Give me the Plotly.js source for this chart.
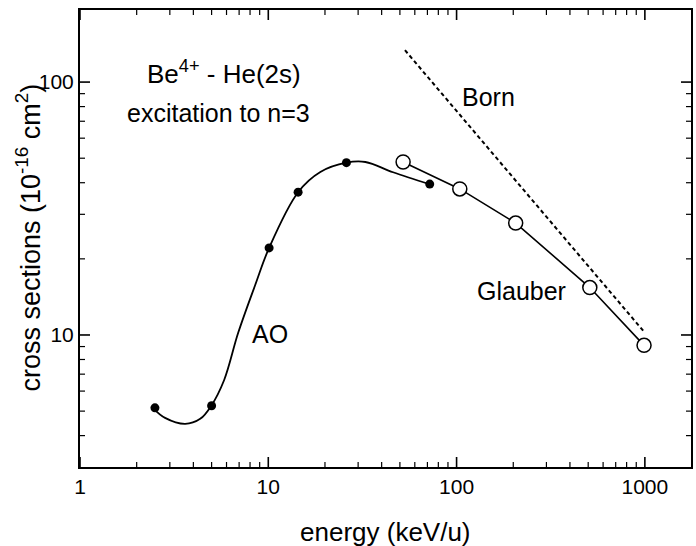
<!DOCTYPE html>
<html>
<head>
<meta charset="utf-8">
<script src="https://cdn.plot.ly/plotly-3.0.1.min.js"></script>
<style>html,body{margin:0;padding:0;background:#fff;}#chart{width:696px;height:546px;}</style>
</head>
<body>
<div id="chart"></div>
<script>
// AO calculation: smooth curve
const aoCurveX = [2.44, 2.83, 3.62, 4.35, 4.97, 5.83, 6.92, 8.53, 10.1, 14.4, 18.9, 26, 32.8, 46, 71.8];
const aoCurveY = [5.14, 4.70, 4.45, 4.66, 5.24, 6.64, 10.2, 15.8, 22.1, 36.7, 44.1, 48, 48.3, 44, 39.5];
// AO calculated points
const aoX = [2.5, 5, 10.1, 14.4, 26, 72];
const aoY = [5.15, 5.25, 22.1, 36.7, 48, 39.5];
// Glauber points
const glauberX = [52, 104, 206, 510, 990];
const glauberY = [48.3, 37.8, 27.7, 15.4, 9.1];
// Born approximation (dashed)
const bornX = [53.2, 1001];
const bornY = [133.7, 10.2];
// tick labels
const xTickVals = [1, 10, 100, 1000];
const xTickText = ['1', '10', '100', '1000'];
const yTickVals = [10, 100];
const yTickText = ['10', '100'];
const xMinor = [2,3,4,5,6,7,8,9,20,30,40,50,60,70,80,90,200,300,400,500,600,700,800,900];
const yMinor = [4,5,6,7,8,9,20,30,40,50,60,70,80,90,200];

const FONT = 'Liberation Sans, Arial, Helvetica, sans-serif';
const X_RANGE = [0, 3.245];
const Y_RANGE = [0.478, 2.285];

const traces = [
  {x: aoCurveX, y: aoCurveY, mode: 'lines', line: {color: '#000', width: 1.8, shape: 'spline', smoothing: 1}, hoverinfo: 'skip'},
  {x: aoX, y: aoY, mode: 'markers', marker: {color: '#000', size: 9, symbol: 'circle'}},
  {x: glauberX, y: glauberY, mode: 'lines+markers', line: {color: '#000', width: 1.6},
   marker: {color: '#fff', size: 14, symbol: 'circle', line: {color: '#000', width: 1.5}}},
  {x: bornX, y: bornY, mode: 'lines', line: {color: '#000', width: 2, dash: '4px,3px'}}
];

// ticks (inside, on all four sides) as pixel-sized shapes on the axis scales
const shapes = [];
function addXTicks(vals, len, w) {
  vals.forEach(v => {
    shapes.push({type: 'line', xref: 'x', yref: 'paper', ysizemode: 'pixel', yanchor: 0, x0: v, x1: v, y0: 0, y1: len, line: {color: '#000', width: w}});
    shapes.push({type: 'line', xref: 'x', yref: 'paper', ysizemode: 'pixel', yanchor: 1, x0: v, x1: v, y0: 0, y1: -len, line: {color: '#000', width: w}});
  });
}
function addYTicks(vals, len, w) {
  vals.forEach(v => {
    shapes.push({type: 'line', yref: 'y', xref: 'paper', xsizemode: 'pixel', xanchor: 0, y0: v, y1: v, x0: 0, x1: len, line: {color: '#000', width: w}});
    shapes.push({type: 'line', yref: 'y', xref: 'paper', xsizemode: 'pixel', xanchor: 1, y0: v, y1: v, x0: 0, x1: -len, line: {color: '#000', width: w}});
  });
}
addXTicks(xMinor, 5, 1.2);
addYTicks(yMinor, 5, 1.2);
addXTicks(xTickVals, 10, 1.6);
addYTicks(yTickVals, 10, 1.6);

const axisCommon = {
  type: 'log', showgrid: false, zeroline: false,
  showline: true, linecolor: '#000', linewidth: 2, mirror: true,
  ticks: '', tickmode: 'array',
  tickfont: {family: FONT, size: 21, color: '#000'}
};

const layout = {
  width: 696, height: 546,
  margin: {l: 80, r: 5, t: 10, b: 79},
  paper_bgcolor: '#fff', plot_bgcolor: '#fff',
  showlegend: false,
  font: {family: FONT, color: '#000'},
  xaxis: Object.assign({}, axisCommon, {range: X_RANGE, tickvals: xTickVals, ticktext: xTickText}),
  yaxis: Object.assign({}, axisCommon, {range: Y_RANGE, tickvals: yTickVals, ticktext: yTickText}),
  shapes: shapes,
  annotations: [
    {text: 'energy (keV/u)', xref: 'paper', yref: 'paper', x: 0.5, y: -0.1422, xanchor: 'center', yanchor: 'middle', showarrow: false, font: {size: 26}},
    {text: 'cross sections (10<sup>-16</sup> cm<sup>2</sup>)', xref: 'paper', yref: 'paper', x: -0.0851, y: 0.502, xanchor: 'center', yanchor: 'middle', textangle: -90, showarrow: false, font: {size: 27}},
    {text: 'Be<sup>4+</sup> - He(2s)', xref: 'paper', yref: 'paper', x: 0.2357, y: 0.864, xanchor: 'center', yanchor: 'middle', showarrow: false, font: {size: 26}},
    {text: 'excitation to n=3', xref: 'paper', yref: 'paper', x: 0.2259, y: 0.7746, xanchor: 'center', yanchor: 'middle', showarrow: false, font: {size: 25}},
    {text: 'Born', xref: 'paper', yref: 'paper', x: 0.668, y: 0.8096, xanchor: 'center', yanchor: 'middle', showarrow: false, font: {size: 25}},
    {text: 'Glauber', xref: 'paper', yref: 'paper', x: 0.7234, y: 0.385, xanchor: 'center', yanchor: 'middle', showarrow: false, font: {size: 25}},
    {text: 'AO', xref: 'paper', yref: 'paper', x: 0.311, y: 0.291, xanchor: 'center', yanchor: 'middle', showarrow: false, font: {size: 25}}
  ]
};

Plotly.newPlot('chart', traces, layout, {staticPlot: true, displayModeBar: false});
</script>
</body>
</html>
